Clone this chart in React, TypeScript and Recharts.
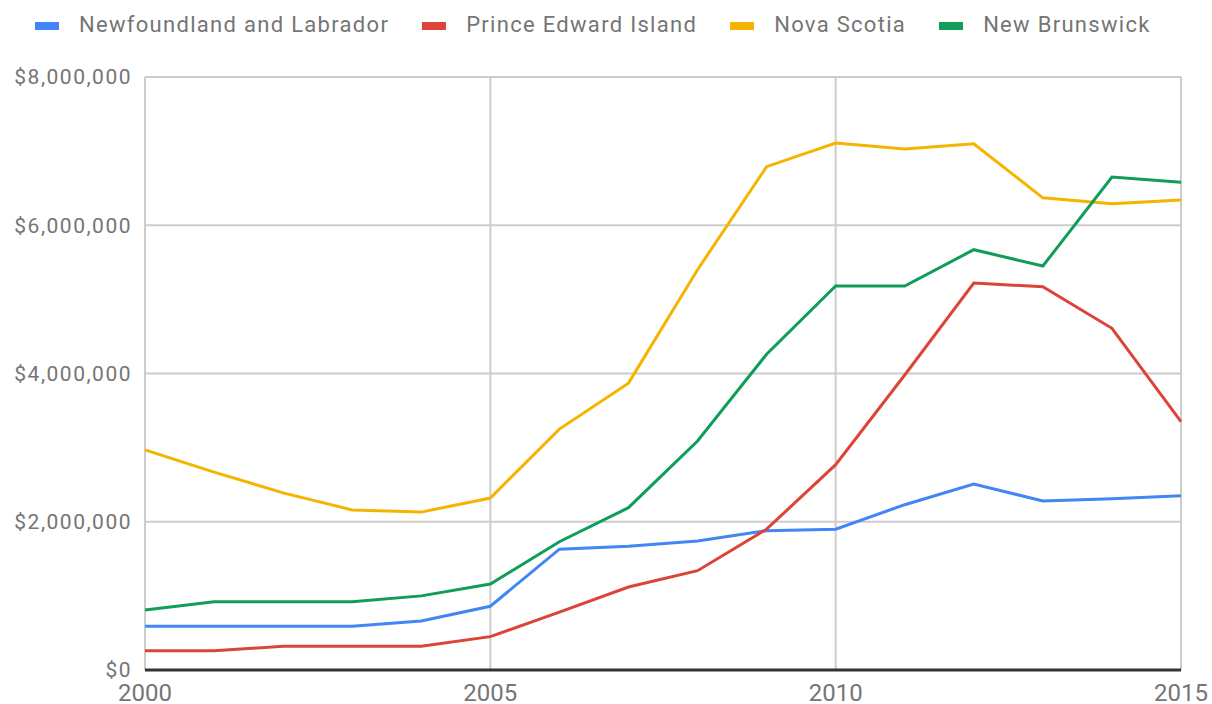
import React from 'react';
import { LineChart, Line, XAxis, YAxis, CartesianGrid, Legend } from 'recharts';

const years = [2000, 2001, 2002, 2003, 2004, 2005, 2006, 2007, 2008, 2009, 2010, 2011, 2012, 2013, 2014, 2015];
const newfoundland = [590000, 590000, 590000, 590000, 660000, 860000, 1630000, 1670000, 1740000, 1880000, 1900000, 2230000, 2510000, 2280000, 2310000, 2350000];
const princeEdward = [260000, 260000, 320000, 320000, 320000, 450000, 780000, 1120000, 1340000, 1900000, 2770000, 3980000, 5220000, 5170000, 4610000, 3350000];
const novaScotia = [2970000, 2670000, 2390000, 2160000, 2130000, 2320000, 3250000, 3870000, 5400000, 6790000, 7110000, 7030000, 7100000, 6370000, 6290000, 6340000];
const newBrunswick = [810000, 920000, 920000, 920000, 1000000, 1160000, 1730000, 2190000, 3090000, 4260000, 5180000, 5180000, 5670000, 5450000, 6650000, 6580000];
const xTicks = [2000, 2005, 2010, 2015];
const yTicks = [0, 2000000, 4000000, 6000000, 8000000];

const seriesDefs = [
  { key: 'nl', name: 'Newfoundland and Labrador', color: '#4285F4', values: newfoundland },
  { key: 'pei', name: 'Prince Edward Island', color: '#DB4437', values: princeEdward },
  { key: 'ns', name: 'Nova Scotia', color: '#F4B400', values: novaScotia },
  { key: 'nb', name: 'New Brunswick', color: '#0F9D58', values: newBrunswick },
];

const data = years.map((y, i) => {
  const row: Record<string, number> = { year: y };
  seriesDefs.forEach((s) => { row[s.key] = s.values[i]; });
  return row;
});

const FONT = 'Roboto, sans-serif';
const TEXT = '#757575';

const fmtMoney = (v: number) => '$' + v.toLocaleString('en-US');

const LegendContent = () => (
  <div style={{ display: 'flex', alignItems: 'center', paddingLeft: 35, fontFamily: FONT, fontSize: 22, letterSpacing: 1.3, color: TEXT, whiteSpace: 'nowrap', lineHeight: '26px' }}>
    {seriesDefs.map((s) => (
      <div key={s.key} style={{ display: 'flex', alignItems: 'center', marginRight: 33 }}>
        <div style={{ width: 24, height: 8, background: s.color, marginRight: 20, marginTop: 2 }} />
        <span>{s.name}</span>
      </div>
    ))}
  </div>
);

export default function App() {
  return (
    <div style={{ position: 'absolute', left: 0, top: 0, width: 1212, height: 704, background: '#fff' }}>
      <LineChart width={1212} height={704} data={data} margin={{ top: 77, right: 31, bottom: 0, left: 0 }}>
        <CartesianGrid stroke="#cccccc" strokeWidth={2} />
        <XAxis
          dataKey="year"
          type="number"
          domain={[2000, 2015]}
          ticks={xTicks}
          height={34}
          tickLine={false}
          tickSize={0}
          tickMargin={14}
          axisLine={{ stroke: '#333333', strokeWidth: 3 }}
          tick={{ fill: TEXT, fontSize: 24, fontFamily: FONT }}
        />
        <YAxis
          type="number"
          domain={[0, 8000000]}
          ticks={yTicks}
          width={145}
          axisLine={false}
          tickLine={false}
          tickSize={0}
          tickMargin={13}
          tickFormatter={fmtMoney}
          tick={{ fill: TEXT, fontSize: 21, fontFamily: FONT, letterSpacing: 1.5 }}
        />
        <Legend
          layout="horizontal"
          verticalAlign="middle"
          align="center"
          wrapperStyle={{ top: 12, left: 0, width: 1212 }}
          content={<LegendContent />}
        />
        {seriesDefs.map((s) => (
          <Line
            key={s.key}
            type="linear"
            dataKey={s.key}
            name={s.name}
            stroke={s.color}
            strokeWidth={3}
            dot={false}
            activeDot={false}
            isAnimationActive={false}
          />
        ))}
      </LineChart>
    </div>
  );
}
